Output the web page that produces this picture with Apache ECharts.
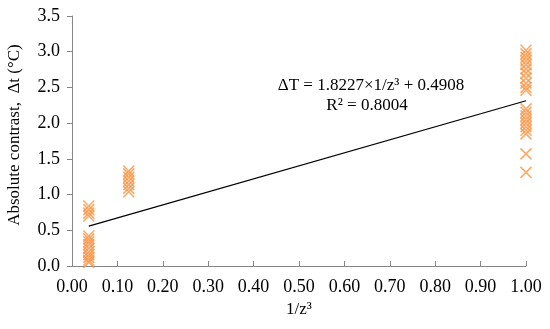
<!DOCTYPE html>
<html>
<head>
<meta charset="utf-8">
<script src="https://cdn.jsdelivr.net/npm/echarts@6/dist/echarts.min.js"></script>
<style>
  html, body { margin: 0; padding: 0; background: #fff; }
  #chart { width: 550px; height: 329px; }
</style>
</head>
<body>
<div id="chart"></div>
<script>
// measured points, grouped by 1/z^3
var xLow = 0.037;   // 1/27
var xMid = 0.125;   // 1/8
var xHigh = 1.0;
var yLow = [0.84, 0.79, 0.74, 0.70, 0.42, 0.38, 0.34, 0.30, 0.25, 0.20, 0.16, 0.12, 0.08, 0.05];
var yMid = [1.33, 1.29, 1.24, 1.19, 1.14, 1.09, 1.04];
var yHigh = [3.02, 2.97, 2.92, 2.87, 2.82, 2.76, 2.70, 2.63, 2.56, 2.50, 2.46,
             2.20, 2.15, 2.10, 2.05, 2.00, 1.95, 1.90, 1.85, 1.57, 1.31];

// linear trendline (Excel)
var slope = 1.8227;
var intercept = 0.4908;
var trendX = [0.037, 1.0];
var eqText = "\u0394T = 1.8227\u00d71/z\u00b3 + 0.4908";
var r2Text = "R\u00b2 = 0.8004";
var yTitle = "Absolute contrast,  \u0394t (\u00b0C)";
var xTitle = "1/z\u00b3";

var points = [];
yLow.forEach(function (v) { points.push([xLow, v]); });
yMid.forEach(function (v) { points.push([xMid, v]); });
yHigh.forEach(function (v) { points.push([xHigh, v]); });

var trend = trendX.map(function (x) { return [x, slope * x + intercept]; });

var font = "'Liberation Serif', 'Times New Roman', serif";
var axisGrey = "#868686";

var chart = echarts.init(document.getElementById("chart"));
chart.setOption({
  animation: false,
  grid: { left: 72, right: 24, top: 16, bottom: 63 },
  xAxis: {
    type: "value",
    min: 0,
    max: 1,
    interval: 0.1,
    name: xTitle,
    nameLocation: "middle",
    nameGap: 32,
    nameTextStyle: { fontFamily: font, fontSize: 17, color: "#000" },
    axisLine: { lineStyle: { color: axisGrey } },
    axisTick: { inside: true, length: 5, lineStyle: { color: axisGrey } },
    axisLabel: {
      fontFamily: font, fontSize: 18, color: "#000", margin: 12,
      formatter: function (v) { return v.toFixed(2); }
    },
    splitLine: { show: false }
  },
  yAxis: {
    type: "value",
    min: 0,
    max: 3.5,
    interval: 0.5,
    axisLine: { show: true, lineStyle: { color: axisGrey } },
    axisTick: { show: true, length: 5, lineStyle: { color: axisGrey } },
    axisLabel: {
      fontFamily: font, fontSize: 18, color: "#000", margin: 12,
      formatter: function (v) { return v.toFixed(1); }
    },
    splitLine: { show: false }
  },
  graphic: [
    {
      type: "text", x: 15, y: 135, rotation: Math.PI / 2,
      style: { text: yTitle, fontFamily: font, fontSize: 17, fill: "#000", align: "center", verticalAlign: "middle" }
    },
    {
      type: "text", x: 371, y: 86,
      style: { text: eqText, fontFamily: font, fontSize: 17, fill: "#000", align: "center", verticalAlign: "middle" }
    },
    {
      type: "text", x: 367, y: 106,
      style: { text: r2Text, fontFamily: font, fontSize: 17, fill: "#000", align: "center", verticalAlign: "middle" }
    }
  ],
  series: [
    {
      type: "scatter",
      data: points,
      symbol: "path://M0,0L10,10M10,0L0,10",
      symbolSize: 11,
      itemStyle: { color: "rgba(0,0,0,0)", borderColor: "#F79646", borderWidth: 1.6 },
      z: 2
    },
    {
      type: "line",
      data: trend,
      symbol: "none",
      lineStyle: { color: "#000", width: 1.3 },
      z: 3
    }
  ]
});
</script>
</body>
</html>
